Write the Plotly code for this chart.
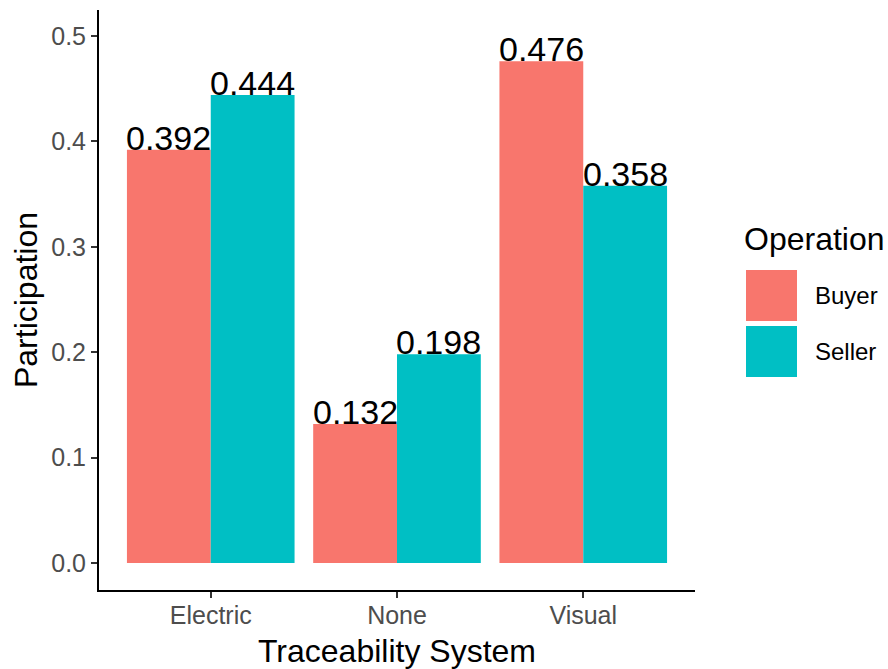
import plotly.graph_objects as go

categories = ["Electric", "None", "Visual"]
series_names = ["Buyer", "Seller"]
buyer_values = [0.392, 0.132, 0.476]
seller_values = [0.444, 0.198, 0.358]
y_tick_vals = [0.0, 0.1, 0.2, 0.3, 0.4, 0.5]
y_tick_text = ["0.0", "0.1", "0.2", "0.3", "0.4", "0.5"]
colors = ["#F8766D", "#00BFC4"]

FONT = "Liberation Sans, Arial, sans-serif"
W, H = 888, 669
# plot area in screen pixels (body margin removed by post_script)
PL, PR, PT, PB = 99, 695, 10, 590
plot_w = PR - PL
plot_h = PB - PT
ML = PL
MT = PT
MR = W - ML - plot_w
MB = H - MT - plot_h
x_range = [-0.6, 2.6]
px_per_unit = plot_w / (x_range[1] - x_range[0])
bar_half = 0.9 / 2 / 2  # half of one bar width in category units

fig = go.Figure()
all_values = [buyer_values, seller_values]
for name, vals, col in zip(series_names, all_values, colors):
    fig.add_trace(go.Bar(x=categories, y=vals, name=name, marker=dict(color=col, line=dict(width=0)),
                         showlegend=False, hoverinfo="skip"))

annotations = []
for i, vals in enumerate(all_values):
    sign = -1 if i == 0 else 1
    for c, v in zip(categories, vals):
        annotations.append(dict(x=c, y=v, xref="x", yref="y", text=f"{v:.3f}", showarrow=False,
                                xanchor="center", yanchor="bottom",
                                xshift=sign * bar_half * px_per_unit, yshift=-9,
                                font=dict(family=FONT, size=34, color="black")))

def px_to_paper_x(px):
    return (px - PL) / plot_w

def px_to_paper_y(py):
    return (PB - py) / plot_h

annotations.append(dict(x=px_to_paper_x(742), y=px_to_paper_y(239), xref="paper", yref="paper",
                        text="Operation", showarrow=False, xanchor="left", yanchor="middle",
                        font=dict(family=FONT, size=32, color="black")))
shapes = []
key_top, key_size, key_step = 270, 51, 56
for i, (name, col) in enumerate(zip(series_names, colors)):
    top = key_top + i * key_step
    shapes.append(dict(type="rect", xref="paper", yref="paper",
                       x0=px_to_paper_x(746), x1=px_to_paper_x(746 + key_size),
                       y0=px_to_paper_y(top + key_size), y1=px_to_paper_y(top),
                       fillcolor=col, line=dict(width=0), layer="above"))
    annotations.append(dict(x=px_to_paper_x(813), y=px_to_paper_y(top + key_size / 2), xref="paper", yref="paper",
                            text=name, showarrow=False, xanchor="left", yanchor="middle",
                            font=dict(family=FONT, size=24, color="black")))

fig.update_layout(
    width=W, height=H,
    margin=dict(l=ML, r=MR, t=MT, b=MB),
    barmode="group", bargap=0.1, bargroupgap=0,
    plot_bgcolor="white", paper_bgcolor="white",
    font=dict(family=FONT),
    annotations=annotations, shapes=shapes,
    showlegend=False,
    xaxis=dict(range=x_range, showline=True, linecolor="black", linewidth=2,
               ticks="outside", ticklen=6, tickwidth=2, tickcolor="#333333",
               ticklabelstandoff=-4, automargin=False,
               tickfont=dict(family=FONT, size=25, color="#4D4D4D"),
               title=dict(text="Traceability System", font=dict(family=FONT, size=32, color="black"), standoff=13),
               showgrid=False, zeroline=False, fixedrange=True),
    yaxis=dict(range=[-0.0256, 0.5247], showline=True, linecolor="black", linewidth=2,
               ticks="outside", ticklen=6, tickwidth=2, tickcolor="#333333",
               tickvals=y_tick_vals, ticktext=y_tick_text, automargin=False,
               tickfont=dict(family=FONT, size=25, color="#4D4D4D"),
               title=dict(text="Participation", font=dict(family=FONT, size=32, color="black"), standoff=4),
               showgrid=False, zeroline=False, fixedrange=True),
)

fig.write_html("out.html", config={"displayModeBar": False},
               post_script="document.body.style.margin='0';document.body.style.overflow='hidden';")
